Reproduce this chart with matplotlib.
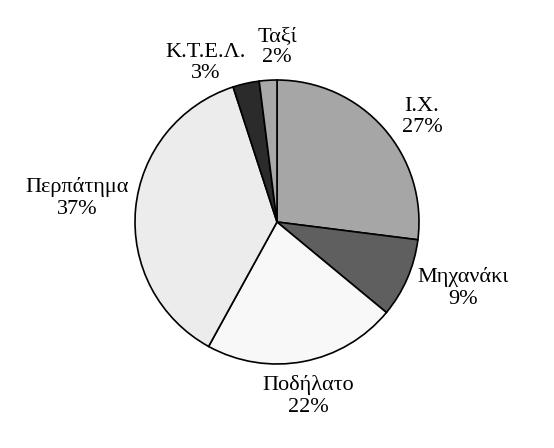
import matplotlib.pyplot as plt

# data (clockwise from 12 o'clock)
labels = ['Ι.Χ.', 'Μηχανάκι', 'Ποδήλατο', 'Περπάτημα', 'Κ.Τ.Ε.Λ.', 'Ταξί']
values = [27, 9, 22, 37, 3, 2]
colors = ['#a6a6a6', '#5f5f5f', '#f8f8f8', '#ececec', '#2b2b2b', '#a8a8a8']

# label positions in pixels (x, y from top)
label_pos = [(422, 117), (463, 288), (308, 396), (77, 198), (206, 63), (277, 47)]

W, H = 554, 448
plt.rcParams['font.family'] = ['Liberation Serif', 'DejaVu Serif']

fig = plt.figure(figsize=(W / 100, H / 100), dpi=100)
ax = fig.add_axes([0, 0, 1, 1])

ax.pie(values, colors=colors, startangle=90, counterclock=False,
       center=(277, H - 222), radius=142,
       wedgeprops=dict(edgecolor='black', linewidth=1.2), frame=True)
ax.set_xlim(0, W)
ax.set_ylim(0, H)
ax.set_aspect('equal')
ax.axis('off')

for lab, v, (x, y) in zip(labels, values, label_pos):
    ax.text(x, H - y, f'{lab}\n{v}%', ha='center', va='center',
            fontsize=16, linespacing=1.15, color='black')

fig.savefig('out.png', dpi=100, facecolor='white')
